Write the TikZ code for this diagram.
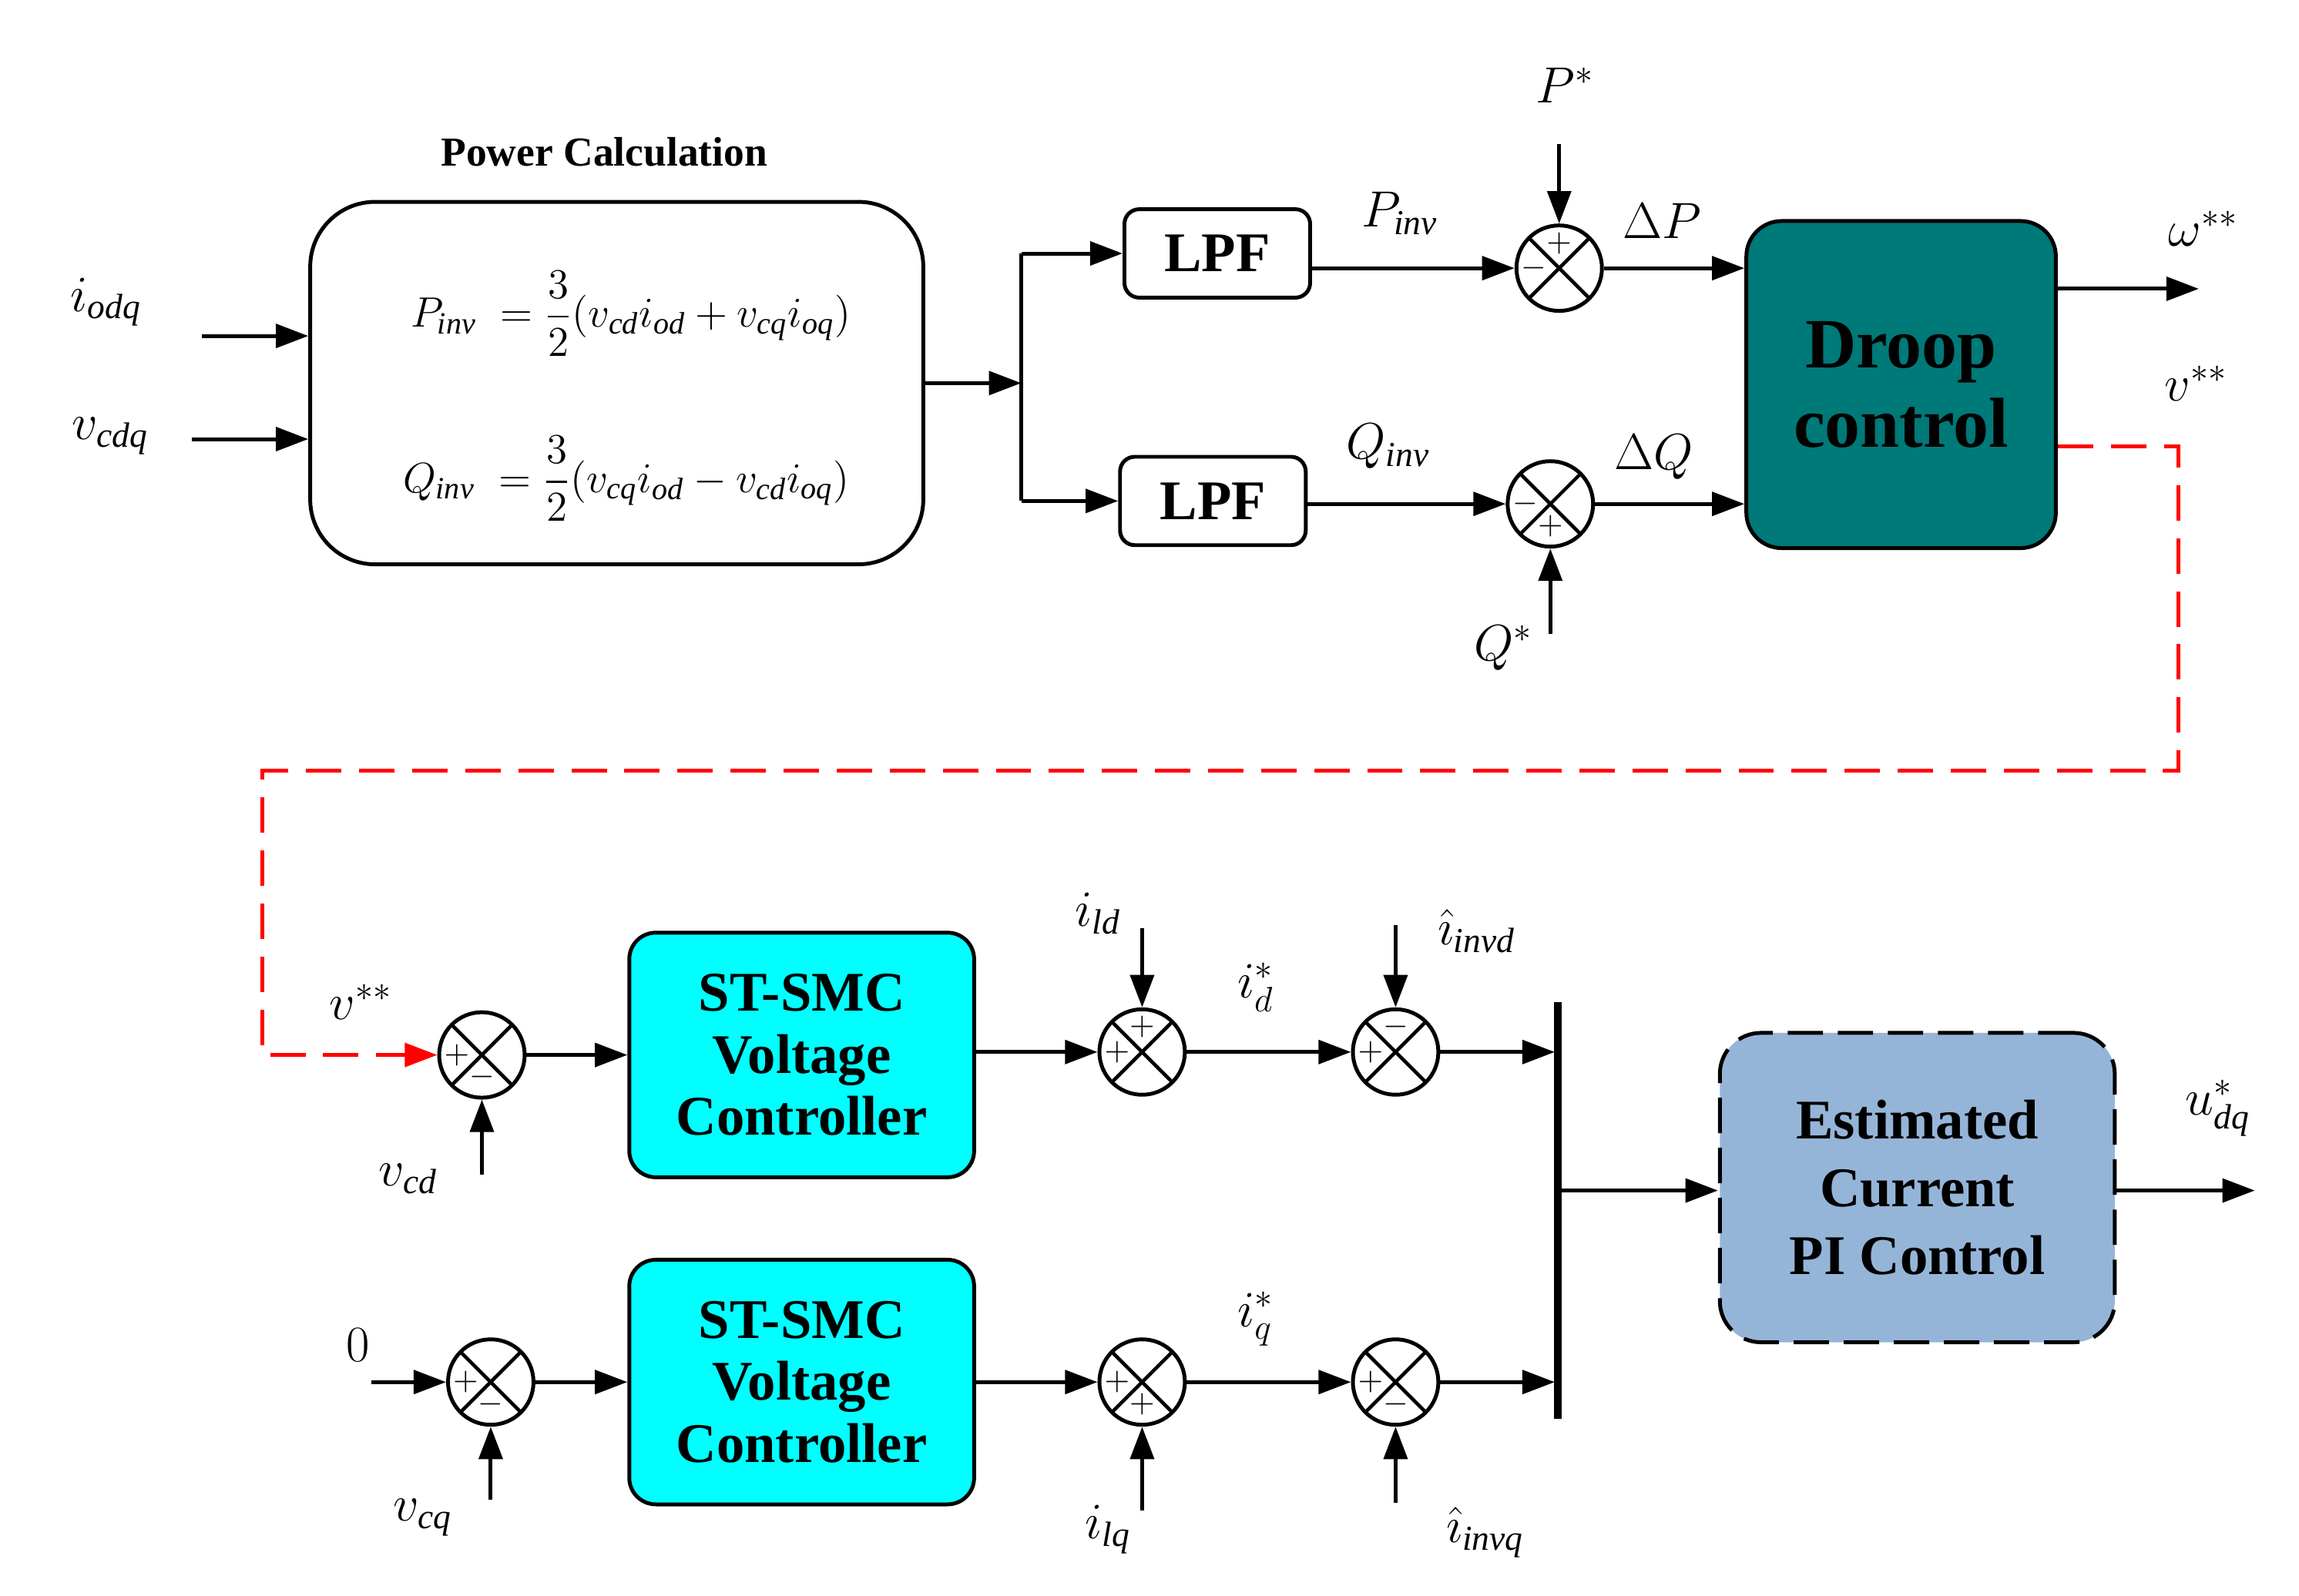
\documentclass[tikz,border=0pt]{standalone}
\usepackage{amsmath}
\usepackage{fontspec}
\setmainfont{Liberation Serif}
\usetikzlibrary{arrows.meta}
\definecolor{cy}{rgb}{0,1,1}
\begin{document}
\begin{tikzpicture}[x=0.5pt,y=-0.5pt,line width=1.3pt,
 ar/.style={-{Triangle[length=11pt,width=8pt]}},
 sum/.style={circle,draw,minimum size=29pt,inner sep=0pt,path picture={
   \draw[line width=1.2pt] (path picture bounding box.south west)--(path picture bounding box.north east)
   (path picture bounding box.north west)--(path picture bounding box.south east);}},
 sg/.style={font=\fontsize{11}{11}\selectfont,inner sep=0pt},
 lb/.style={font=\fontsize{17}{19}\selectfont,inner sep=0pt},
 bb/.style={draw,rounded corners=9pt,font=\bfseries\fontsize{19}{21}\selectfont,align=center,inner sep=0pt}]
\useasboundingbox (0,0) rectangle (1560,1083);
% power calc
\node[draw,rounded corners=22pt,minimum width=208pt,minimum height=123pt] (pc) at (418.5,260) {};
\node[font=\bfseries\fontsize{14}{16}\selectfont] (pct) at (410,103) {Power Calculation};
\node[font=\fontsize{15}{17}\selectfont] (eq1) at (428,213) {$P_{\mathit{inv}}\;=\dfrac{3}{2}(v_{\mathit{cd}}i_{\mathit{od}}+v_{\mathit{cq}}i_{\mathit{oq}})$};
\node[font=\fontsize{15}{17}\selectfont] (eq2) at (425,325) {$Q_{\mathit{inv}}\;=\dfrac{3}{2}(v_{\mathit{cq}}i_{\mathit{od}}-v_{\mathit{cd}}i_{\mathit{oq}})$};
\coordinate (a1) at (137,228); \coordinate (a2) at (130,298);
\node[lb] at (72,205) {$i_{\mathit{odq}}$};
\node[lb] at (75,296) {$v_{\mathit{cdq}}$};
\draw[ar] (a1) -- (a1-|pc.west);
\draw[ar] (a2) -- (a2-|pc.west);
% LPF
\node[bb,rounded corners=5pt,minimum width=63pt,minimum height=30pt] (l1) at (826,172) {LPF};
\node[bb,rounded corners=5pt,minimum width=63pt,minimum height=30pt] (l2) at (823,340) {LPF};
\coordinate (br) at (693,260);
\draw[ar] (pc.east|-br) -- (br);
\draw[ar] (693,172) -- (l1.west);
\draw[ar] (693,340) -- (l2.west);
\draw (693,172) -- (693,340);
% sums top
\node[sum] (s1) at (1058,182) {};
\node[sg] at (1058,165) {$+$}; \node[sg] at (1041,182) {$-$};
\node[sum] (s2) at (1052,342) {};
\node[sg] at (1035,342) {$-$}; \node[sg] at (1052,357) {$+$};
\draw[ar] (l1.east|-s1) -- (s1.west);
\draw[ar] (l2.east|-s2) -- (s2.west);
\node[lb] at (950,145) {$P_{\mathit{inv}}$};
\node[lb] at (942,303) {$Q_{\mathit{inv}}$};
\coordinate (ps) at (1058,98); \coordinate (qs) at (1052,430);
\draw[ar] (ps) -- (s1.north); \draw[ar] (qs) -- (s2.south);
\node[lb] at (1062,58) {$P^{*}$};
\node[lb] at (1020,440) {$Q^{*}$};
% droop
\node[draw,fill=teal!95!black,rounded corners=12pt,minimum width=105pt,minimum height=111pt,font=\bfseries\fontsize{24}{27}\selectfont,align=center] (dr) at (1290,261) {Droop\\control};
\draw[ar] (s1.east) -- (s1-|dr.west);
\draw[ar] (s2.east) -- (s2-|dr.west);
\node[lb] at (1128,150) {$\Delta P$};
\node[lb] at (1122,310) {$\Delta Q$};
\coordinate (w) at (1492,196);
\draw[ar] (dr.east|-w) -- (w);
\node[lb] at (1495,155) {$\omega^{**}$};
\node[lb] at (1490,260) {$v^{**}$};
% bottom row 1
\node[sum] (s3) at (327,716) {};
\node[sg] at (310,716) {$+$}; \node[sg] at (327,731) {$-$};
\draw[red,dashed,dash pattern=on 12pt off 6pt,-{Triangle[length=11pt,width=8pt]}] (dr.east|-0,303) -- (1478,303) -- (1478,523) -- (178,523) -- (178,716) -- (s3.west);
\node[lb] at (245,680) {$v^{**}$};
\coordinate (vcd) at (327,797);
\draw[ar] (vcd) -- (s3.south);
\node[lb] at (277,800) {$v_{\mathit{cd}}$};
\node[bb,fill=cy,minimum width=117pt,minimum height=83pt] (c1) at (544,716) {ST-SMC\\Voltage\\Controller};
\draw[ar] (s3.east) -- (c1.west);
\node[sum] (s4) at (775,714) {};
\node[sg] at (775,697) {$+$}; \node[sg] at (758,714) {$+$};
\draw[ar] (c1.east|-s4) -- (s4.west);
\coordinate (ild) at (775,630);
\draw[ar] (ild) -- (s4.north);
\node[lb] at (745,620) {$i_{\mathit{ld}}$};
\node[sum] (s5) at (947,714) {};
\node[sg] at (947,697) {$-$}; \node[sg] at (930,714) {$+$};
\draw[ar] (s4.east) -- (s5.west);
\node[lb] at (852,670) {$i_{d}^{*}$};
\coordinate (iid) at (947,628);
\draw[ar] (iid) -- (s5.north);
\node[lb] at (1002,632) {$\hat{\imath}_{\mathit{invd}}$};
% bus
\draw[line width=2.5pt] (1057,680) -- (1057,963);
\coordinate (bus1) at (1055,714); \coordinate (bus2) at (1055,938); \coordinate (bm) at (1057,808);
\draw[ar] (s5.east) -- (bus1);
% row 2
\node[sum] (s6) at (333,938) {};
\node[sg] at (316,938) {$+$}; \node[sg] at (333,953) {$-$};
\coordinate (z) at (252,938);
\draw[ar] (z) -- (s6.west);
\node[lb] at (243,913) {$0$};
\coordinate (vcq) at (333,1018);
\draw[ar] (vcq) -- (s6.south);
\node[lb] at (287,1030) {$v_{\mathit{cq}}$};
\node[bb,fill=cy,minimum width=117pt,minimum height=83pt] (c2) at (544,938) {ST-SMC\\Voltage\\Controller};
\draw[ar] (s6.east) -- (c2.west);
\node[sum] (s7) at (775,938) {};
\node[sg] at (758,938) {$+$}; \node[sg] at (775,953) {$+$};
\draw[ar] (c2.east|-s7) -- (s7.west);
\coordinate (ilq) at (775,1025);
\draw[ar] (ilq) -- (s7.south);
\node[lb] at (752,1038) {$i_{\mathit{lq}}$};
\node[sum] (s8) at (947,938) {};
\node[sg] at (930,938) {$+$}; \node[sg] at (947,953) {$-$};
\draw[ar] (s7.east) -- (s8.west);
\node[lb] at (852,895) {$i_{q}^{*}$};
\coordinate (iiq) at (947,1020);
\draw[ar] (iiq) -- (s8.south);
\node[lb] at (1008,1040) {$\hat{\imath}_{\mathit{invq}}$};
\draw[ar] (s8.east) -- (bus2);
% estimated
\node[draw,dashed,dash pattern=on 12pt off 5pt,fill={rgb,255:red,149;green,181;blue,216},rounded corners=14pt,minimum width=134pt,minimum height=105pt,font=\bfseries\fontsize{19}{23}\selectfont,align=center] (ec) at (1301,806) {Estimated\\Current\\PI Control};
\draw[ar] (bm) -- (bm-|ec.west);
\coordinate (u) at (1530,808);
\draw[ar] (ec.east|-u) -- (u);
\node[lb] at (1505,752) {$u_{\mathit{dq}}^{*}$};
\end{tikzpicture}
\end{document}
